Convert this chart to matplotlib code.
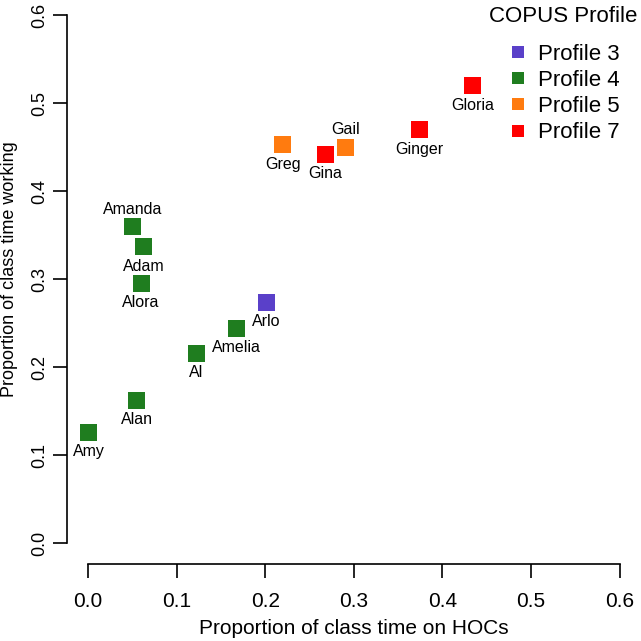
import matplotlib
matplotlib.use("Agg")
import matplotlib.pyplot as plt
from matplotlib.lines import Line2D

plt.rcParams['font.family'] = ['Liberation Sans', 'DejaVu Sans']

# data
names = ["Amy", "Alan", "Al", "Amelia", "Arlo", "Alora", "Adam", "Amanda",
         "Greg", "Gina", "Gail", "Ginger", "Gloria"]
hocs = [0.001, 0.055, 0.122, 0.168, 0.201, 0.060, 0.063, 0.050,
        0.220, 0.268, 0.291, 0.374, 0.434]
working = [0.126, 0.162, 0.216, 0.244, 0.274, 0.295, 0.337, 0.360,
           0.453, 0.442, 0.450, 0.470, 0.520]
profiles = [4, 4, 4, 4, 3, 4, 4, 4, 5, 7, 5, 7, 7]
label_pos = ["below"] * 13
label_pos[names.index("Amanda")] = "above"
label_pos[names.index("Gail")] = "above"

profile_list = [3, 4, 5, 7]
profile_colors = {3: "#5a40c9", 4: "#1f7d1f", 5: "#ff7b0f", 7: "#ff0000"}

fig = plt.figure(figsize=(6.41, 6.41), dpi=100)
ax = fig.add_axes([0.104, 0.120, 0.896, 0.889])

ax.scatter(hocs, working, s=150, marker="s",
           c=[profile_colors[p] for p in profiles], linewidths=0, zorder=3)

for n, x, y, pos in zip(names, hocs, working, label_pos):
    dy = 12.5 if pos == "above" else -14
    ax.annotate(n, (x, y), xytext=(0, dy), textcoords="offset points",
                ha="center", va="center", fontsize=11.5)

ax.set_xlim(-0.024, 0.624)
ax.set_ylim(-0.024, 0.624)
ticks = [0.0, 0.1, 0.2, 0.3, 0.4, 0.5, 0.6]
ax.set_xticks(ticks)
ax.set_yticks(ticks)
ax.set_xticklabels([f"{t:.1f}" for t in ticks], fontsize=15)
ax.set_yticklabels([f"{t:.1f}" for t in ticks], fontsize=13, rotation=90, va="center")
ax.tick_params(direction="out", length=10, width=1.2)
ax.tick_params(axis="x", pad=10)
ax.tick_params(axis="y", pad=3)

for side in ["top", "right"]:
    ax.spines[side].set_visible(False)
for side in ["left", "bottom"]:
    ax.spines[side].set_bounds(0, 0.6)
    ax.spines[side].set_linewidth(1.2)

ax.set_xlabel("Proportion of class time on HOCs", fontsize=15, labelpad=6)
ax.set_ylabel("Proportion of class time working", fontsize=13)
ax.yaxis.set_label_coords(-0.085, 0.517)

# legend, title placed separately to get the wider gap
fig.text(563 / 641, 1 - 17 / 641, "COPUS Profile", fontsize=16,
         ha="center", va="center")
handles = [Line2D([], [], marker="s", linestyle="none", markersize=8,
                  markeredgewidth=0, color=profile_colors[p]) for p in profile_list]
leg = ax.legend(handles, [f"Profile {p}" for p in profile_list],
                loc="upper left", bbox_to_anchor=(507 / 641, 1 - 44 / 641),
                bbox_transform=fig.transFigure,
                frameon=False, fontsize=16,
                borderpad=0.0, borderaxespad=0.0,
                handletextpad=0.4, labelspacing=0.23, handlelength=1.0)

fig.savefig("out.png", dpi=100)
